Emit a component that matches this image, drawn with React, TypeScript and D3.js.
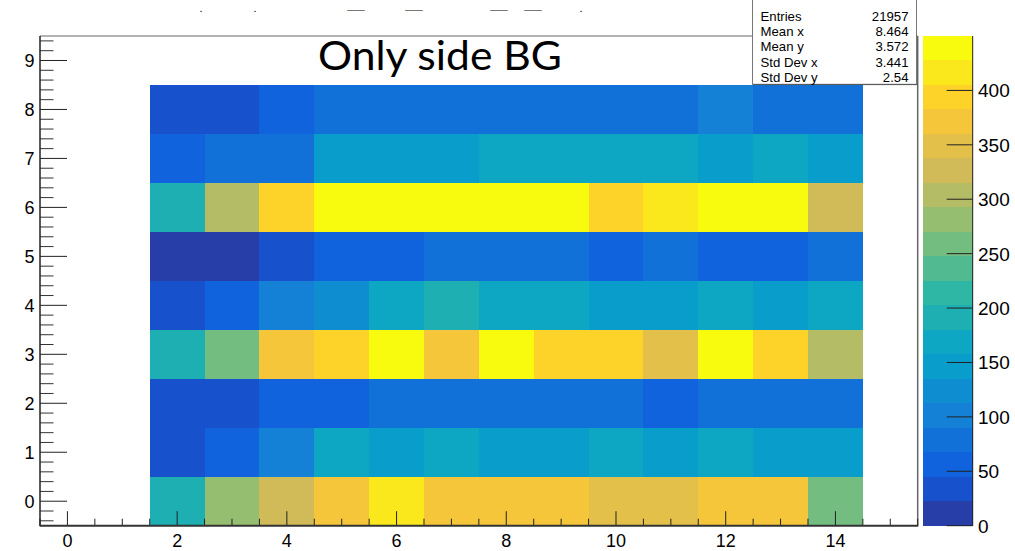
import React from "react";
import * as d3 from "d3";

// ---- data ----
const xBins = [2, 3, 4, 5, 6, 7, 8, 9, 10, 11, 12, 13, 14];
const yBins = [0, 1, 2, 3, 4, 5, 6, 7, 8];
const row0 = [191, 281, 326, 371, 416, 371, 371, 371, 349, 349, 371, 371, 259];
const row1 = [34, 56, 101, 169, 146, 169, 146, 146, 169, 146, 169, 146, 146];
const row2 = [34, 34, 56, 56, 79, 79, 79, 79, 79, 56, 79, 79, 79];
const row3 = [191, 259, 371, 394, 439, 371, 439, 394, 394, 349, 439, 394, 304];
const row4 = [34, 56, 101, 124, 169, 191, 169, 169, 146, 146, 169, 146, 169];
const row5 = [12, 12, 34, 56, 56, 79, 79, 79, 56, 79, 56, 56, 79];
const row6 = [191, 304, 394, 439, 439, 439, 439, 439, 394, 416, 439, 439, 326];
const row7 = [56, 79, 79, 146, 146, 146, 169, 169, 169, 169, 146, 169, 146];
const row8 = [34, 34, 56, 79, 79, 79, 79, 79, 79, 79, 101, 79, 79];
const rows = [row0, row1, row2, row3, row4, row5, row6, row7, row8];

const xTickLabels = [0, 2, 4, 6, 8, 10, 12, 14];
const yTickLabels = [0, 1, 2, 3, 4, 5, 6, 7, 8, 9];
const zTickLabels = [0, 50, 100, 150, 200, 250, 300, 350, 400];
const zMax = 450;
const nLevels = 20;

const statLabels = ["Entries", "Mean x", "Mean y", "Std Dev x", "Std Dev y"];
const statValues = ["21957", "8.464", "3.572", "3.441", "2.54"];
const titleText = "Only side BG";
const topFragments = [".", ".", "_", "_", "_", "_", "."];
const topFragmentX = [201, 255, 356, 414, 499, 533, 581];

// ROOT kBird palette stops
const birdStops = [0.0, 0.125, 0.25, 0.375, 0.5, 0.625, 0.75, 0.875, 1.0];
const birdR = [0.2082, 0.0592, 0.078, 0.0232, 0.1802, 0.5301, 0.8186, 0.9956, 0.9764];
const birdG = [0.1664, 0.3599, 0.5041, 0.6419, 0.7178, 0.7492, 0.7328, 0.7862, 0.9832];
const birdB = [0.5293, 0.8684, 0.8385, 0.7914, 0.6425, 0.4662, 0.3499, 0.1968, 0.0539];

const rScale = d3.scaleLinear().domain(birdStops).range(birdR).clamp(true);
const gScale = d3.scaleLinear().domain(birdStops).range(birdG).clamp(true);
const bScale = d3.scaleLinear().domain(birdStops).range(birdB).clamp(true);

function levelColor(level: number): string {
  const ncol = 255;
  const idx = Math.floor(((level + 0.99) * ncol) / nLevels);
  const t = Math.min(idx, ncol - 1) / (ncol - 1);
  return d3.rgb(rScale(t) * 255, gScale(t) * 255, bScale(t) * 255).formatHex();
}
function valueColor(v: number): string {
  const lvl = Math.max(0, Math.min(nLevels - 1, Math.floor((v / zMax) * nLevels)));
  return levelColor(lvl);
}

const W = 1015;
const H = 551;
const fL = 40, fR = 917.7, fT = 36, fB = 525.7;
const cbL = 922.7, cbR = 972.7;
const font = "'Liberation Sans', Arial, Helvetica, sans-serif";

export default function App() {
  const x = d3.scaleLinear().domain([-0.5, 15.5]).range([fL, fR]);
  const y = d3.scaleLinear().domain([-0.5, 9.5]).range([fB, fT]);
  const z = d3.scaleLinear().domain([0, zMax]).range([fB, fT]);

  const xMinor = d3.range(-0.5, 15.5001, 0.5).filter((v) => Math.abs(v / 2 - Math.round(v / 2)) > 1e-6);
  const yMinor = d3.range(-0.4, 9.5, 0.2).filter((v) => Math.abs(v - Math.round(v)) > 1e-6);
  const levels = d3.range(nLevels);

  return (
    <svg width={W} height={H} style={{ position: "absolute", left: 0, top: 0, background: "#fff" }}>
      <rect x={0} y={0} width={W} height={H} fill="#fff" />
      {/* cut-off title fragments */}
      {topFragments.map((t, i) =>
        t === "_" ? (
          <text key={"tf" + i} x={topFragmentX[i]} y={9} fontFamily={font} fontSize={10} textAnchor="middle"
            textLength={17} lengthAdjust="spacingAndGlyphs" fill="#000">
            {t}
          </text>
        ) : (
          <text key={"tf" + i} x={topFragmentX[i]} y={11.5} fontFamily={font} fontSize={11} textAnchor="middle" fill="#000">
            {t}
          </text>
        )
      )}
      {/* cells */}
      <g shapeRendering="crispEdges">
        {rows.map((row, j) =>
          row.map((v, i) => {
            const xb = xBins[i];
            const yb = yBins[j];
            return (
              <rect
                key={`c${i}-${j}`}
                x={x(xb - 0.5)}
                y={y(yb + 0.5)}
                width={x(xb + 0.5) - x(xb - 0.5)}
                height={y(yb - 0.5) - y(yb + 0.5)}
                fill={valueColor(v)}
              />
            );
          })
        )}
      </g>
      {/* frame */}
      <line x1={fL} x2={fR} y1={fT} y2={fT} stroke="#666" strokeWidth={1} />
      <line x1={fR} x2={fR} y1={fT} y2={fB} stroke="#666" strokeWidth={1.5} />
      {/* x axis */}
      <g stroke="#222" strokeWidth={1}>
        {xTickLabels.map((t) => (
          <line key={"xM" + t} x1={x(t)} x2={x(t)} y1={fB} y2={fB - 14.5} />
        ))}
        {xMinor.map((t, i) => (
          <line key={"xm" + i} x1={x(t)} x2={x(t)} y1={fB} y2={fB - 7} />
        ))}
      </g>
      {xTickLabels.map((t) => (
        <text key={"xl" + t} x={x(t)} y={547} fontFamily={font} fontSize={18} textAnchor="middle" fill="#000">
          {t}
        </text>
      ))}
      {/* y axis */}
      <g stroke="#222" strokeWidth={1}>
        {yTickLabels.map((t) => (
          <line key={"yM" + t} x1={fL} x2={fL + 27} y1={y(t)} y2={y(t)} />
        ))}
        {yMinor.map((t, i) => (
          <line key={"ym" + i} x1={fL} x2={fL + 13.5} y1={y(t)} y2={y(t)} stroke="#333" />
        ))}
      </g>
      {yTickLabels.map((t) => (
        <text key={"yl" + t} x={34.5} y={y(t) + 6.5} fontFamily={font} fontSize={18} textAnchor="end" fill="#000">
          {t}
        </text>
      ))}
      <line x1={fL} x2={fL} y1={fT} y2={fB + 0.5} stroke="#222" strokeWidth={1.5} />
      <line x1={fL} x2={fR + 0.5} y1={fB} y2={fB} stroke="#333" strokeWidth={2} />
      {/* title */}
      <text
        x={440}
        y={69.5}
        fontFamily="Lato, 'Open Sans', sans-serif"
        fontSize={41}
        textAnchor="middle"
        textLength={244}
        lengthAdjust="spacingAndGlyphs"
        fill="#000"
      >
        {titleText}
      </text>
      {/* stats box */}
      <rect x={752.5} y={-2} width={164} height={86.3} fill="#fff" stroke="#777" strokeWidth={1} />
      <line x1={753} x2={917.5} y1={84.6} y2={84.6} stroke="#555" strokeWidth={1} />
      {statLabels.map((s, i) => (
        <g key={"st" + i}>
          <text x={760.5} y={20.8 + i * 15.25} fontFamily={font} fontSize={13.2} fill="#000">
            {s}
          </text>
          <text x={908.5} y={20.8 + i * 15.25} fontFamily={font} fontSize={13.2} textAnchor="end" fill="#000">
            {statValues[i]}
          </text>
        </g>
      ))}
      {/* color bar */}
      <g shapeRendering="crispEdges">
        {levels.map((l) => (
          <rect
            key={"cb" + l}
            x={cbL}
            y={z((l + 1) * (zMax / nLevels))}
            width={cbR - cbL}
            height={z(l * (zMax / nLevels)) - z((l + 1) * (zMax / nLevels))}
            fill={levelColor(l)}
          />
        ))}
      </g>
      <line x1={cbR} x2={cbR} y1={fT} y2={fB} stroke="#222" strokeWidth={1} />
      {zTickLabels.map((t) => (
        <g key={"z" + t}>
          <line x1={cbR - 26} x2={cbR} y1={z(t)} y2={z(t)} stroke="#222" strokeWidth={1} />
          <text x={978} y={z(t) + 7} fontFamily={font} fontSize={19} fill="#000">
            {t}
          </text>
        </g>
      ))}
    </svg>
  );
}
